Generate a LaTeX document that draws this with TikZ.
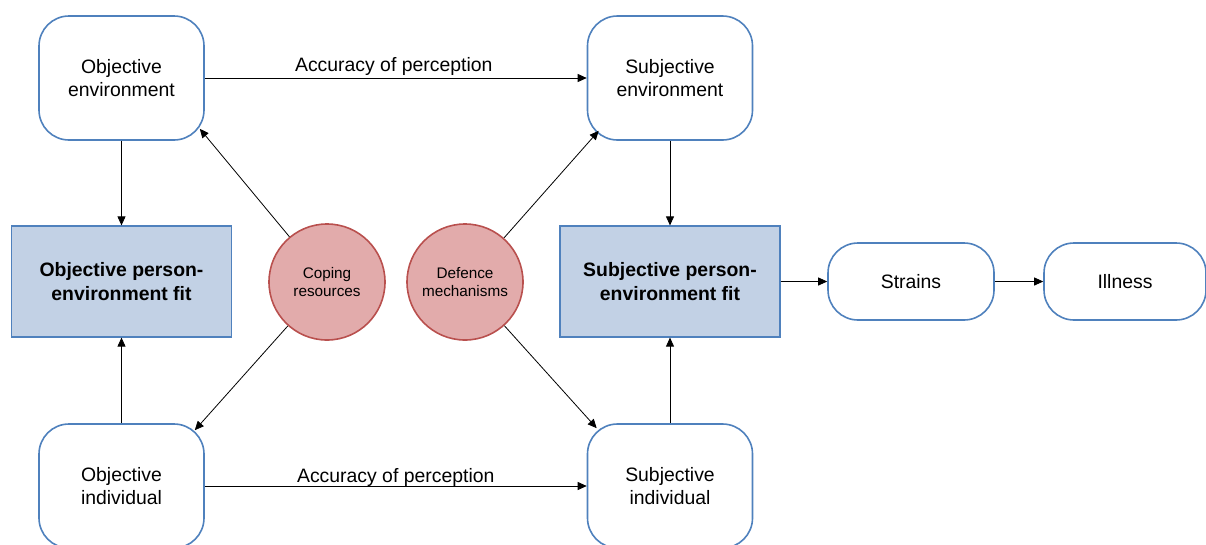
\documentclass[tikz,border=0pt]{standalone}
\usepackage{fontspec}
\setmainfont{Liberation Sans}
\usetikzlibrary{calc,arrows.meta}
\definecolor{boxline}{RGB}{79,129,189}
\definecolor{fitfill}{RGB}{194,209,229}
\definecolor{circfill}{RGB}{226,171,171}
\definecolor{circline}{RGB}{185,80,78}
\tikzset{
  rbox/.style={draw=boxline, line width=1.6pt, rounded corners=30pt, fill=white,
    minimum width=165pt, minimum height=124pt, align=center,
    font=\fontsize{19.4}{23.5}\selectfont},
  pillbox/.style={draw=boxline, line width=1.6pt, rounded corners=30pt, fill=white,
    minimum width=166pt, minimum height=77pt, align=center,
    font=\fontsize{19.4}{23.5}\selectfont},
  fitbox/.style={draw=boxline, line width=1.2pt, fill=fitfill,
    minimum width=220pt, minimum height=111pt, align=center,
    font=\fontsize{19.4}{23.5}\selectfont\bfseries},
  resource/.style={circle, draw=circline, line width=1.6pt, fill=circfill,
    minimum size=116pt, inner sep=0pt, align=center,
    font=\fontsize{15.3}{18.5}\selectfont},
  arr/.style={-{Triangle[length=9pt,width=8pt]}, line width=0.8pt, black},
  lbl/.style={font=\fontsize{19.4}{23.5}\selectfont}
}
\begin{document}
\begin{tikzpicture}[x=1pt,y=-1pt]
\useasboundingbox (0,0) rectangle (1206,544);

% environment and individual boxes
\node[rbox] (oe) at (121.5,78) {Objective\\environment};
\node[rbox] (se) at (670,78) {Subjective\\environment};
\node[rbox] (oi) at (121.5,486) {Objective\\individual};
\node[rbox] (si) at (670,486) {Subjective\\individual};

% fit boxes
\node[fitbox] (of) at (121.5,281.5) {Objective person-\\environment fit};
\node[fitbox] (sf) at (670,281.5) {Subjective person-\\environment fit};

% outcomes
\node[pillbox] (st) at (911,281.5) {Strains};
\node[pillbox, minimum width=162pt] (il) at (1125,281.5) {Illness};

% moderators
\node[resource] (cr) at (327,282) {Coping\\resources};
\node[resource] (dm) at (465,282) {Defence\\mechanisms};

% targets of the diagonal arrows
\coordinate (oeT) at ($(oe.south east)+(-5,-12)$);
\coordinate (oiT) at ($(oi.north east)+(-10,7)$);
\coordinate (seT) at ($(se.south west)+(12,-10)$);
\coordinate (siT) at ($(si.north west)+(10,5)$);

% perception arrows
\draw[arr] (oe.east) -- node[lbl, above=-1pt, xshift=-2pt] {Accuracy of perception} (se.west);
\draw[arr] (oi.east) -- node[lbl, above=-4pt] {Accuracy of perception} (si.west);

% into the fit boxes
\draw[arr] (oe.south) -- (of.north);
\draw[arr] (oi.north) -- (of.south);
\draw[arr] (se.south) -- (sf.north);
\draw[arr] (si.north) -- (sf.south);

% moderator arrows
\draw[arr] (cr) -- (oeT);
\draw[arr] (cr) -- (oiT);
\draw[arr] (dm) -- (seT);
\draw[arr] (dm) -- (siT);

% outcome chain
\draw[arr] (sf.east) -- (st.west);
\draw[arr] (st.east) -- (il.west);
\end{tikzpicture}
\end{document}
